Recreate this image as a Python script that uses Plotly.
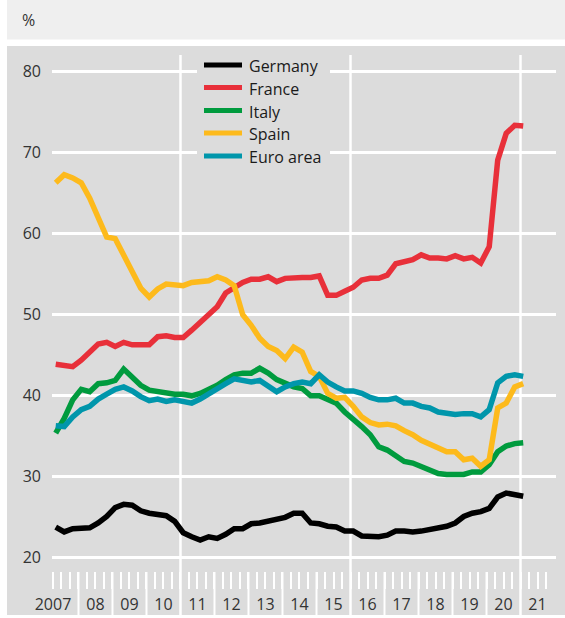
import plotly.graph_objects as go

# ---------------- data (quarterly, 2007Q1 - 2020Q4, % ) ----------------
years = list(range(2007, 2021))
quarters = [1, 2, 3, 4]

germany = [23.7, 23.1, 23.5, 23.6, 23.6, 24.2, 25.0, 26.1, 26.5, 26.4, 25.7, 25.4, 25.2, 25.1,
           24.4, 23.0, 22.5, 22.1, 22.5, 22.3, 22.8, 23.5, 23.5, 24.1, 24.2, 24.4, 24.6, 24.9,
           25.4, 25.4, 24.2, 24.1, 23.8, 23.7, 23.2, 23.2, 22.6, 22.6, 22.5, 22.7, 23.2, 23.2,
           23.1, 23.2, 23.4, 23.7, 23.8, 24.2, 25.0, 25.4, 25.6, 26.0, 27.4, 27.9, 27.7, 27.5]
france = [43.8, 43.7, 43.5, 44.3, 45.2, 46.3, 46.5, 46.0, 46.5, 46.2, 46.2, 46.2, 47.2, 47.3,
          47.1, 47.1, 48.0, 49.0, 50.0, 50.9, 52.6, 53.2, 53.9, 54.3, 54.3, 54.6, 54.0, 54.4,
          54.5, 54.5, 54.5, 54.7, 52.3, 52.3, 52.8, 53.3, 54.2, 54.4, 54.4, 54.8, 56.2, 56.4,
          56.7, 57.3, 56.9, 56.9, 56.8, 57.2, 56.8, 57.0, 56.3, 58.3, 69.0, 72.3, 73.3, 73.2]
italy = [35.3, 37.1, 39.4, 40.7, 40.4, 41.4, 41.5, 41.8, 43.2, 42.2, 41.2, 40.6, 40.4, 40.2,
         40.1, 40.1, 39.9, 40.2, 40.7, 41.2, 41.9, 42.5, 42.7, 42.7, 43.3, 42.7, 41.9, 41.4,
         41.0, 40.8, 39.9, 39.9, 39.4, 39.0, 37.9, 37.1, 36.1, 35.1, 33.6, 33.2, 32.5, 31.8,
         31.6, 31.2, 30.7, 30.3, 30.2, 30.2, 30.2, 30.5, 30.5, 31.4, 33.0, 33.7, 34.0, 34.1]
spain = [66.2, 67.2, 66.8, 66.2, 64.3, 62.0, 59.5, 59.3, 57.3, 55.1, 53.2, 52.1, 53.1, 53.7,
         53.6, 53.5, 53.9, 54.0, 54.1, 54.6, 54.2, 53.5, 49.9, 48.6, 47.0, 46.0, 45.5, 44.5,
         45.9, 45.3, 42.9, 42.3, 40.2, 39.6, 39.7, 38.6, 37.3, 36.6, 36.3, 36.4, 36.2, 35.6,
         35.1, 34.4, 33.9, 33.5, 33.0, 33.0, 32.0, 32.2, 31.2, 32.0, 38.4, 39.0, 41.0, 41.4]
euro_area = [36.2, 36.1, 37.3, 38.2, 38.6, 39.5, 40.1, 40.7, 41.0, 40.5, 39.8, 39.3, 39.5, 39.2,
             39.4, 39.2, 39.0, 39.5, 40.2, 40.8, 41.4, 42.0, 41.8, 41.6, 41.8, 41.0, 40.4, 41.0,
             41.4, 41.6, 41.4, 42.5, 41.6, 41.0, 40.5, 40.5, 40.2, 39.7, 39.4, 39.4, 39.6, 39.0,
             39.0, 38.6, 38.4, 37.9, 37.8, 37.6, 37.7, 37.7, 37.3, 38.2, 41.5, 42.3, 42.5, 42.3]

series_names = ["Germany", "France", "Italy", "Spain", "Euro area"]
series_values = [germany, france, italy, spain, euro_area]
series_colors = ["#000000", "#e8303a", "#009b3e", "#fdba1c", "#0096ab"]

year_tick_labels = ["2007", "08", "09", "10", "11", "12", "13", "14", "15",
                    "16", "17", "18", "19", "20", "21"]
y_ticks = [20, 30, 40, 50, 60, 70, 80]

# ---------------- derived positions ----------------
quarter_labels = [f"{y} Q{q}" for y in years for q in quarters]
x_pos = [y + (q - 1) / 4 + 0.33 for y in years for q in quarters]

# geometry helpers (pixel layout of the 565x618 canvas)
W, H = 565, 618
L, R, T, B = 52, 556, 55, 589
def px(xp):
    return (xp - L) / (R - L)
def py(yp):
    return (B - yp) / (B - T)

FONT = "Open Sans, Noto Sans, sans-serif"

fig = go.Figure()
for name, vals, col in zip(series_names, series_values, series_colors):
    fig.add_trace(go.Scatter(x=x_pos, y=vals, mode="lines", name=name,
                             text=quarter_labels, showlegend=False,
                             hovertemplate="%{text}: %{y:.1f}%<extra>" + name + "</extra>",
                             line=dict(color=col, width=5.5)))

tick_font = dict(family=FONT, size=16, color="#333333")

label_vals = [2007.25] + [y + 0.5 for y in range(2008, 2022)]
quarter_marks = [y + q / 4 for y in range(2007, 2022) for q in range(1, 4)] + \
                [float(y) for y in range(2008, 2022)]

shapes = [
    dict(type="rect", xref="paper", yref="paper", x0=px(7), x1=px(565), y0=py(39.5), y1=py(0),
         fillcolor="#efefef", line=dict(width=0), layer="below"),
    dict(type="rect", xref="paper", yref="paper", x0=px(7), x1=px(565), y0=py(615), y1=py(46),
         fillcolor="#dcdcdc", line=dict(width=0), layer="below"),
]
for y in range(2008, 2022):
    full = y in (2011, 2016, 2021)
    shapes.append(dict(type="line", xref="x", yref="paper", x0=y, x1=y,
                       y0=py(615), y1=1.0 if full else py(572),
                       line=dict(color="white", width=2.5 if full else 2), layer="below"))

# legend (drawn as keys + text)
legend_rows_y = [65, 87.5, 110.5, 133, 156]
shapes.append(dict(type="rect", xref="paper", yref="paper", x0=px(197), x1=px(330),
                   y0=py(167), y1=py(56), fillcolor="#dcdcdc", line=dict(width=0), layer="above"))
annotations = [dict(text="%", xref="paper", yref="paper", x=px(28), y=py(20),
                    xanchor="center", yanchor="middle", showarrow=False,
                    font=dict(family=FONT, size=16, color="#333333"))]
for name, col, ry in zip(series_names, series_colors, legend_rows_y):
    shapes.append(dict(type="line", xref="paper", yref="paper", x0=px(204), x1=px(242),
                       y0=py(ry), y1=py(ry), line=dict(color=col, width=5), layer="above"))
    annotations.append(dict(text=name, xref="paper", yref="paper", x=px(247), y=py(ry + 1),
                            xanchor="left", yanchor="middle", showarrow=False,
                            font=dict(family=FONT, size=16, color="#1a1a1a")))

fig.update_layout(
    template="none",
    width=W, height=H, autosize=False,
    margin=dict(l=L, r=W - R, t=T, b=H - B, pad=0, autoexpand=False),
    paper_bgcolor="white", plot_bgcolor="#dcdcdc",
    font=dict(family=FONT, size=16, color="#222222"),
    showlegend=False,
    xaxis=dict(range=[2007.221, 2022.044], automargin=False, showgrid=False, zeroline=False,
               showline=False, tickmode="array", tickvals=label_vals, ticktext=year_tick_labels,
               ticks="", tickfont=tick_font, ticklabelstandoff=4,
               minor=dict(tickmode="array", tickvals=quarter_marks, ticks="inside",
                          ticklen=17, tickwidth=2, tickcolor="white", showgrid=False)),
    yaxis=dict(range=[20 - (B - 557) / 8.1, 80 + (71 - T) / 8.1], automargin=False,
               showgrid=True, gridcolor="white", gridwidth=2.5, zeroline=False, showline=False,
               tickmode="array", tickvals=y_ticks, ticks="", tickfont=tick_font,
               ticklabelstandoff=10),
    shapes=shapes,
    annotations=annotations,
)

fig.write_html("out.html", config={"displayModeBar": False},
               post_script="document.body.style.margin='0';document.body.style.overflow='hidden';")
